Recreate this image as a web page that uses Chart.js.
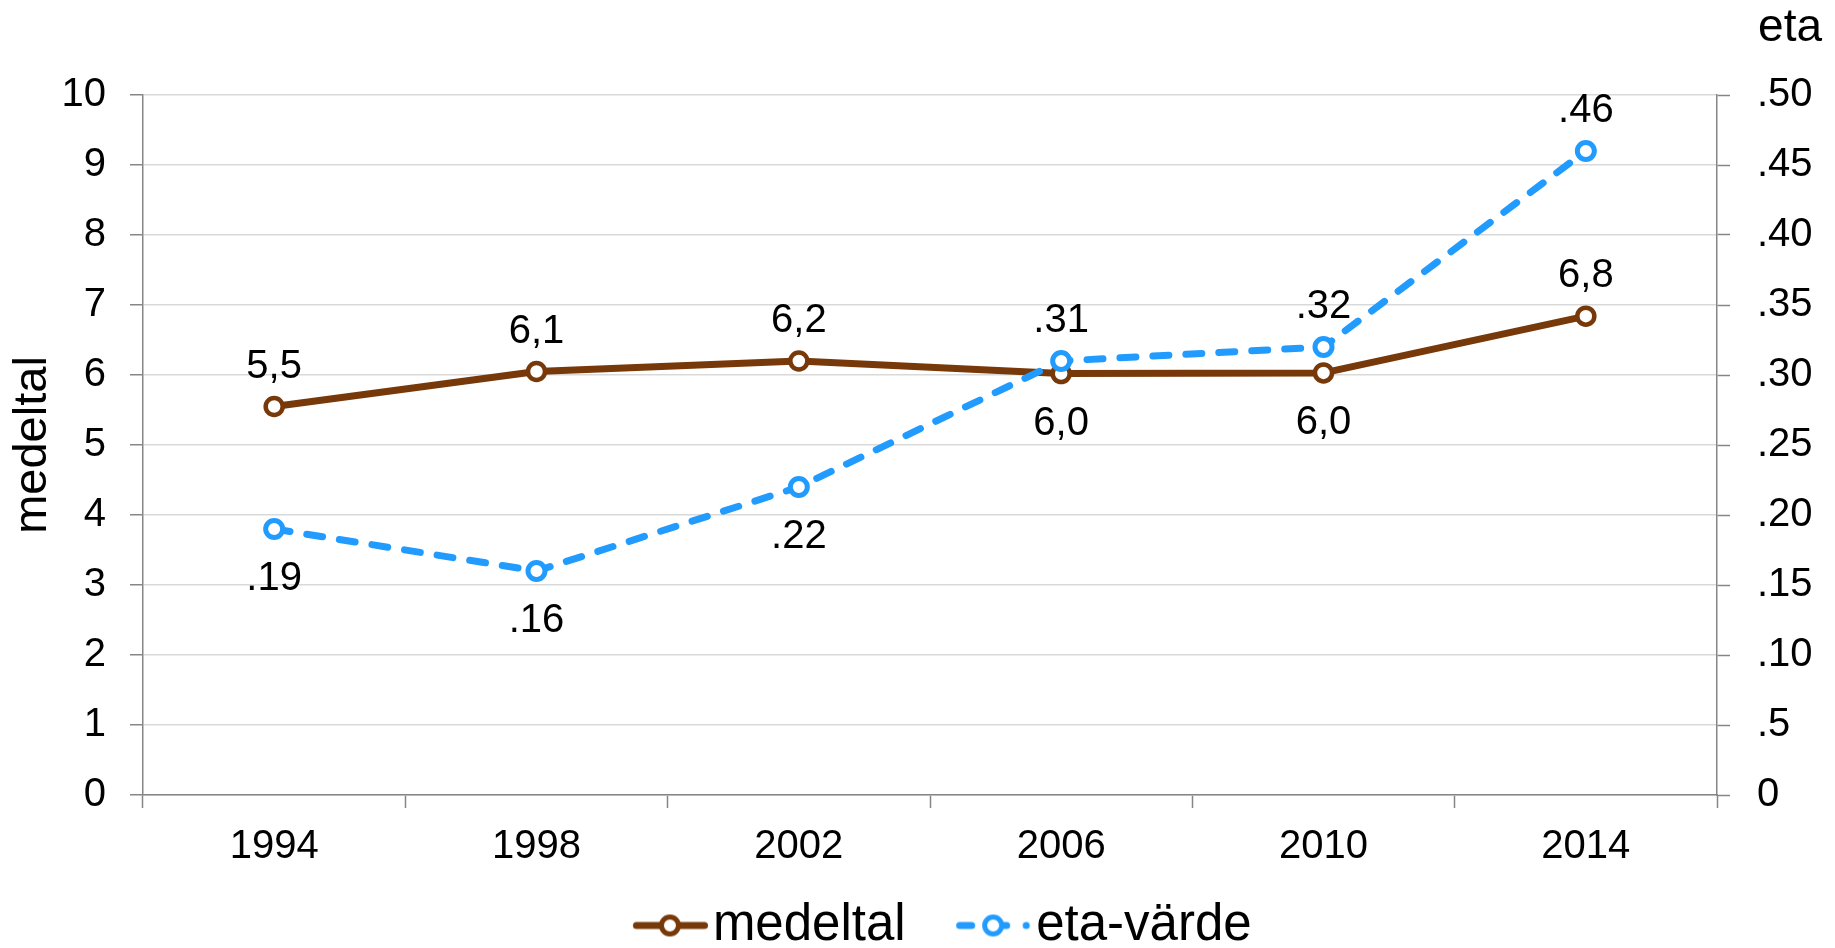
<!DOCTYPE html>
<html>
<head>
<meta charset="utf-8">
<script src="https://cdn.jsdelivr.net/npm/chart.js@4/dist/chart.umd.min.js"></script>
<style>
  html, body { margin: 0; padding: 0; background: #ffffff; overflow: hidden; }
  #wrap { width: 1835px; height: 948px; }
</style>
</head>
<body>
<div id="wrap"><canvas id="c" width="1835" height="948"></canvas></div>
<script>
// ---- data ----
const years = ['1994', '1998', '2002', '2006', '2010', '2014'];
const medeltal = [5.55, 6.05, 6.2, 6.02, 6.03, 6.84];
const etaVarde = [0.19, 0.16, 0.22, 0.31, 0.32, 0.46];
const medeltalLabels = ['5,5', '6,1', '6,2', '6,0', '6,0', '6,8'];
const etaLabels = ['.19', '.16', '.22', '.31', '.32', '.46'];
const leftTickValues = [0, 1, 2, 3, 4, 5, 6, 7, 8, 9, 10];
const rightTickValues = [0, 0.05, 0.10, 0.15, 0.20, 0.25, 0.30, 0.35, 0.40, 0.45, 0.50];
const rightTickLabels = ['0', '.5', '.10', '.15', '.20', '.25', '.30', '.35', '.40', '.45', '.50'];

// ---- label placement (style) ----
const medeltalLabelPos = ['above', 'above', 'above', 'below', 'below', 'above'];
const etaLabelPos = ['below', 'below', 'below', 'above', 'above', 'above'];

const BROWN = '#77390A';
const BLUE = '#229BFF';
const AXIS = '#868686';
const GRID = '#d9d9d9';
const FONT = "'Liberation Sans', Arial, sans-serif";

Chart.defaults.font.family = FONT;
Chart.defaults.color = '#000';

// legend geometry
const LEG_FONT = 51, LEG_BOX = 95, LEG_PAD = 10, SYM_LEN = 75, SYM_GAP = 5;

function makeIcon(color, dashed) {
  const half = LEG_BOX / 2 + LEG_FONT / 2 - SYM_GAP;
  const W = Math.round(half * 2), H = 32;
  const c = document.createElement('canvas');
  c.width = W; c.height = H;
  const g = c.getContext('2d');
  const cy = H / 2, x0 = W - SYM_LEN;
  g.lineCap = 'round';
  g.lineWidth = 7;
  g.strokeStyle = color;
  g.beginPath();
  if (!dashed) {
    g.moveTo(x0 + 3.5, cy); g.lineTo(W - 3.5, cy);
  } else {
    g.moveTo(x0 + 3.5, cy); g.lineTo(x0 + 15.5, cy);
    g.moveTo(x0 + 48.5, cy); g.lineTo(x0 + 50.5, cy);
    g.moveTo(x0 + 70, cy); g.lineTo(x0 + 70.1, cy);
  }
  g.stroke();
  g.beginPath();
  g.arc(x0 + 37, cy, 8.5, 0, Math.PI * 2);
  g.fillStyle = '#fff';
  g.fill();
  g.lineWidth = 5;
  g.stroke();
  return c;
}
const legendIcons = [makeIcon(BROWN, false), makeIcon(BLUE, true)];

const pointLabels = {
  id: 'pointLabels',
  afterDatasetsDraw(chart) {
    const ctx = chart.ctx;
    ctx.save();
    ctx.font = '40px ' + FONT;
    ctx.fillStyle = '#000';
    ctx.textAlign = 'center';
    ctx.textBaseline = 'alphabetic';
    chart.data.datasets.forEach((ds, i) => {
      const meta = chart.getDatasetMeta(i);
      meta.data.forEach((pt, j) => {
        const above = ds.labelPos[j] === 'above';
        ctx.fillText(ds.labelText[j], pt.x, above ? pt.y - 29 : pt.y + 61);
      });
    });
    ctx.restore();
  }
};

const legendShift = {
  id: 'legendShift',
  afterLayout(chart) {
    const l = chart.legend;
    if (!l) return;
    l.left += 11; l.right += 11;
    l.top += 13; l.bottom += 13;
  }
};

new Chart(document.getElementById('c'), {
  type: 'line',
  data: {
    labels: years,
    datasets: [
      {
        label: 'medeltal',
        data: medeltal,
        yAxisID: 'y',
        borderColor: BROWN,
        borderWidth: 7,
        borderCapStyle: 'round',
        borderJoinStyle: 'round',
        pointRadius: 8.5,
        pointBorderWidth: 4.5,
        pointBackgroundColor: '#fff',
        pointBorderColor: BROWN,
        tension: 0,
        fill: false,
        order: 2,
        labelText: medeltalLabels,
        labelPos: medeltalLabelPos
      },
      {
        label: 'eta-värde',
        data: etaVarde,
        yAxisID: 'y1',
        borderColor: BLUE,
        borderWidth: 7,
        borderDash: [16, 17],
        borderCapStyle: 'round',
        borderJoinStyle: 'round',
        pointRadius: 8.5,
        pointBorderWidth: 5,
        pointBackgroundColor: '#fff',
        pointBorderColor: BLUE,
        tension: 0,
        fill: false,
        order: 1,
        labelText: etaLabels,
        labelPos: etaLabelPos
      }
    ]
  },
  options: {
    responsive: false,
    devicePixelRatio: 1,
    animation: false,
    events: [],
    layout: { padding: { top: 0, right: 13, bottom: 0, left: 0 } },
    plugins: {
      tooltip: { enabled: false },
      title: {
        display: true,
        text: 'eta',
        align: 'end',
        color: '#000',
        font: { size: 46, lineHeight: 1, weight: 'normal' },
        padding: { top: 5, bottom: 44 }
      },
      legend: {
        position: 'bottom',
        labels: {
          usePointStyle: true,
          pointStyleWidth: LEG_BOX,
          padding: LEG_PAD,
          color: '#000',
          font: { size: LEG_FONT },
          sort: (a, b) => a.datasetIndex - b.datasetIndex,
          generateLabels(chart) {
            const items = Chart.defaults.plugins.legend.labels.generateLabels(chart);
            items.forEach(it => { it.pointStyle = legendIcons[it.datasetIndex]; });
            return items;
          }
        }
      }
    },
    scales: {
      x: {
        type: 'category',
        offset: true,
        grid: {
          display: true,
          offset: true,
          drawOnChartArea: false,
          drawTicks: true,
          tickLength: 13,
          tickColor: AXIS,
          tickWidth: 1.5
        },
        border: { display: true, color: AXIS, width: 1.5 },
        ticks: { font: { size: 40 }, color: '#000', padding: 15, maxRotation: 0, autoSkip: false },
        afterFit(s) { s.height = 82; }
      },
      y: {
        position: 'left',
        min: 0,
        max: 10,
        afterBuildTicks(s) { s.ticks = leftTickValues.map(v => ({ value: v })); },
        grid: {
          color: GRID,
          lineWidth: 1.5,
          drawTicks: true,
          tickLength: 13,
          tickColor: AXIS,
          tickWidth: 1.5
        },
        border: { display: true, color: AXIS, width: 1.5 },
        ticks: { font: { size: 40 }, color: '#000', padding: 24 },
        title: {
          display: true,
          text: 'medeltal',
          color: '#000',
          font: { size: 47 },
          padding: { top: 5, bottom: 0 }
        },
        afterFit(s) { s.width = 143; }
      },
      y1: {
        position: 'right',
        min: 0,
        max: 0.5,
        afterBuildTicks(s) { s.ticks = rightTickValues.map(v => ({ value: v })); },
        grid: {
          drawOnChartArea: false,
          drawTicks: true,
          tickLength: 13,
          tickColor: AXIS,
          tickWidth: 1.5
        },
        border: { display: true, color: AXIS, width: 1.5 },
        ticks: {
          font: { size: 40 },
          color: '#000',
          padding: 27,
          callback: (v, i) => rightTickLabels[i]
        },
        afterFit(s) { s.width = 105; }
      }
    }
  },
  plugins: [pointLabels, legendShift]
});
</script>
</body>
</html>
